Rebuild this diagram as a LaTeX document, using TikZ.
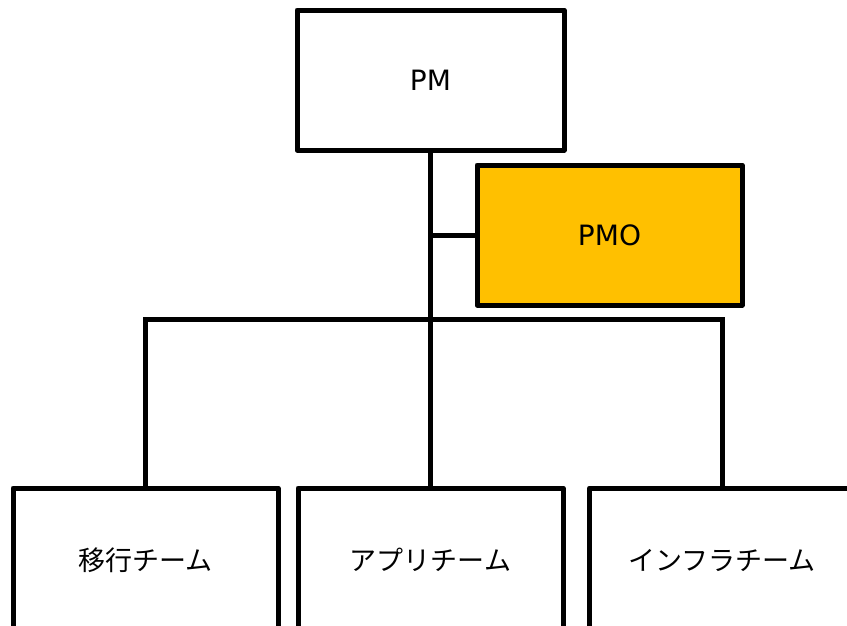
\documentclass[tikz,border=0pt]{standalone}
\usepackage{fontspec}
\setmainfont{DejaVu Sans}
\newfontfamily\cjk{Noto Sans CJK JP}
\definecolor{pmoorange}{HTML}{FFC000}
\begin{document}
\begin{tikzpicture}[x=1pt,y=-1pt,
 box/.style={draw=black,line width=5pt,line join=round,fill=white,minimum width=265pt,minimum height=140pt,inner sep=0pt,font=\fontsize{28}{32}\selectfont},
 team/.style={box,minimum height=144pt,font=\cjk\fontsize{27}{32}\selectfont},
 link/.style={draw=black,line width=5pt}]
\useasboundingbox (0,0) rectangle (847,625);
\clip (0,0) rectangle (847,625);
\node[box,minimum width=267pt] (pm) at (430.5,80) {PM};
\node[box,fill=pmoorange] (pmo) at (609.5,235) {PMO};
\node[team] (t1) at (145.5,560) {移行チーム};
\node[team] (t2) at (430.5,560) {アプリチーム};
\node[team] (t3) at (722,560) {インフラチーム};
\coordinate (bus) at (430.5,319);
\coordinate (side) at (430.5,235);
\draw[link] (pm.south) -- (t2.north);
\draw[link] (side) -- (pmo.west);
\draw[link] (t1.north) |- (bus) -| (t3.north);
\end{tikzpicture}
\end{document}
